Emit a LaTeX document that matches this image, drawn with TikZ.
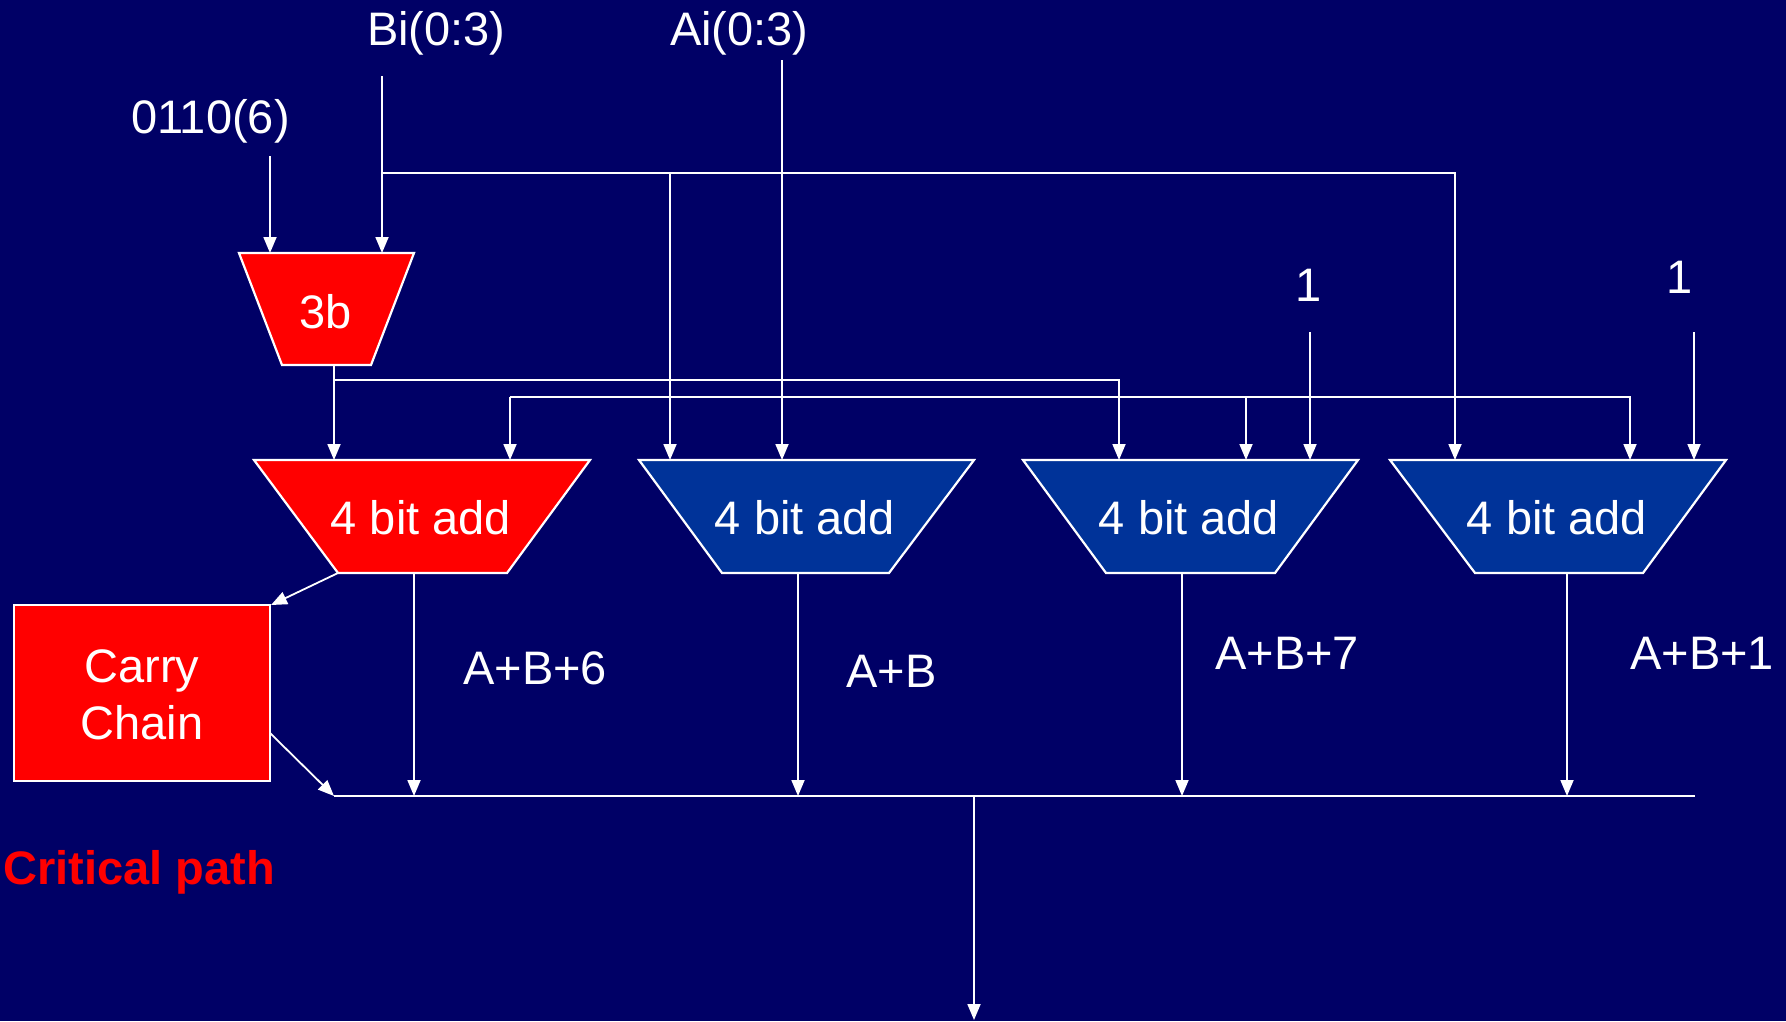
\documentclass[tikz,border=0pt]{standalone}
\usepackage{fontspec}
\setmainfont{Liberation Sans}
\usetikzlibrary{arrows.meta}
\definecolor{bg}{RGB}{0,0,102}
\definecolor{addblue}{RGB}{0,51,153}
\definecolor{hot}{RGB}{255,0,0}
\begin{document}
\begin{tikzpicture}[x=1pt,y=-1pt,
  wire/.style={draw=white,line width=1.8pt},
  arr/.style={wire,-{Triangle[length=16pt,width=13pt]}},
  lbl/.style={text=white,font=\fontsize{47}{57}\selectfont,inner sep=0pt,anchor=base},
  unit/.style={draw=white,line width=2.2pt,line join=miter},
]
\fill[bg] (0,0) rectangle (1786,1021);
\useasboundingbox (0,0) rectangle (1786,1021);

% ---- units
\filldraw[unit,fill=hot] (239,253) -- (414,253) -- (371,365) -- (282,365) -- cycle;
\node[lbl] (mux) at (326,328) {3b};

\filldraw[unit,fill=hot]     (254,460) -- (590,460) -- (507,573) -- (338,573) -- cycle;
\filldraw[unit,fill=addblue] (639,460) -- (974,460) -- (889,573) -- (722,573) -- cycle;
\filldraw[unit,fill=addblue] (1023,460) -- (1358,460) -- (1275,573) -- (1106,573) -- cycle;
\filldraw[unit,fill=addblue] (1390,460) -- (1726,460) -- (1643,573) -- (1475,573) -- cycle;
\node[lbl] (add1) at (421,534) {4 bit add};
\node[lbl] (add2) at (805,534) {4 bit add};
\node[lbl] (add3) at (1189,534) {4 bit add};
\node[lbl] (add4) at (1557,534) {4 bit add};

\node[draw=white,line width=2.2pt,fill=hot,minimum width=256pt,minimum height=176pt,inner sep=0pt] (cc) at (142,693) {};
\node[lbl] (ccA) at (142,682) {Carry};
\node[lbl] (ccB) at (142,739) {Chain};

% ---- labels
\node[lbl,anchor=base west] (six) at (131,133) {0110(6)};
\node[lbl,anchor=base west] (bi) at (367,45) {Bi(0:3)};
\node[lbl,anchor=base west] (ai) at (670,45) {Ai(0:3)};
\node[lbl] (one1) at (1309,301) {1};
\node[lbl] (one2) at (1680,293) {1};
\node[lbl,anchor=base west] (s6) at (463,684) {A+B+6};
\node[lbl,anchor=base west] (s0) at (846,687) {A+B};
\node[lbl,anchor=base west] (s7) at (1215,669) {A+B+7};
\node[lbl,anchor=base west] (s1) at (1630,669) {A+B+1};
\node[lbl,anchor=base west,text=hot,font=\fontsize{47}{57}\selectfont\bfseries] (crit) at (3,884) {Critical path};

% ---- coordinates
\coordinate (sixS) at (270,156);  \coordinate (muxI1) at (270,253);
\coordinate (biS) at (382,76);    \coordinate (muxI2) at (382,253);
\coordinate (bJ) at (382,173);    \coordinate (bJ2) at (670,173);  \coordinate (bR) at (1455,173);
\coordinate (aiS) at (782,60);
\coordinate (muxO) at (334,365);  \coordinate (mJ) at (334,380);   \coordinate (mR) at (1119,380);
\coordinate (cL) at (510,397);    \coordinate (cM) at (1246,397);  \coordinate (cR) at (1630,397);
\coordinate (o1S) at (1310,332);  \coordinate (o2S) at (1694,332);
\coordinate (a1I1) at (334,460);  \coordinate (a1I2) at (510,460);
\coordinate (a2I1) at (670,460);  \coordinate (a2I2) at (782,460);
\coordinate (a3I1) at (1119,460); \coordinate (a3I2) at (1246,460); \coordinate (a3I3) at (1310,460);
\coordinate (a4I1) at (1455,460); \coordinate (a4I2) at (1630,460); \coordinate (a4I3) at (1694,460);
\coordinate (a1O) at (414,573);   \coordinate (a2O) at (798,573);
\coordinate (a3O) at (1182,573);  \coordinate (a4O) at (1567,573);
\coordinate (b1) at (414,796);    \coordinate (b2) at (798,796);
\coordinate (b3) at (1182,796);   \coordinate (b4) at (1567,796);
\coordinate (busL) at (334,796);  \coordinate (busR) at (1695,796);
\coordinate (busM) at (974,796);  \coordinate (outE) at (974,1020);
\coordinate (a1BL) at (338,573);  \coordinate (ccT) at (271,605);
\coordinate (ccR) at (270,733);

% ---- wires
\draw[arr] (sixS) -- (muxI1);
\draw[arr] (biS) -- (muxI2);
\draw[arr] (bJ) -- (bR) -- (a4I1);
\draw[arr] (bJ2) -- (a2I1);
\draw[arr] (aiS) -- (a2I2);
\draw[arr] (muxO) -- (a1I1);
\draw[arr] (mJ) -- (mR) -- (a3I1);
\draw[arr] (cL) -- (a1I2);
\draw[arr] (cL) -- (cR) -- (a4I2);
\draw[arr] (cM) -- (a3I2);
\draw[arr] (o1S) -- (a3I3);
\draw[arr] (o2S) -- (a4I3);
\draw[arr] (a1O) -- (b1);
\draw[arr] (a2O) -- (b2);
\draw[arr] (a3O) -- (b3);
\draw[arr] (a4O) -- (b4);
\draw[wire] (busL) -- (busR);
\draw[arr] (busM) -- (outE);
\draw[arr] (a1BL) -- (ccT);
\draw[arr] (ccR) -- (busL);
\end{tikzpicture}
\end{document}
